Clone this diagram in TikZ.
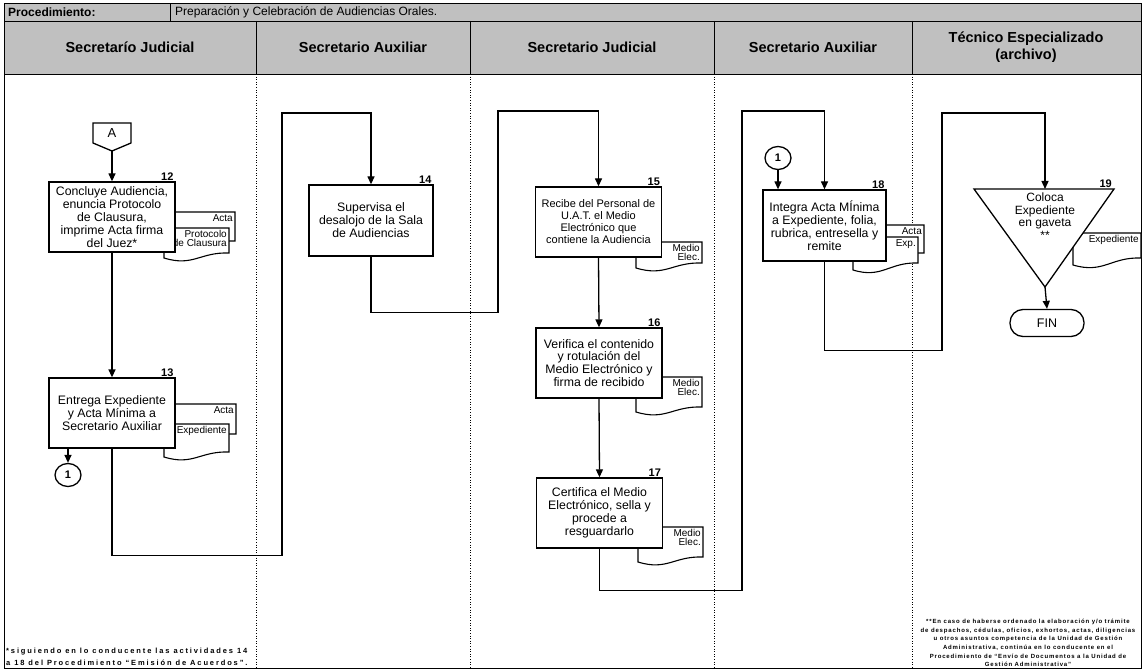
\documentclass[tikz,border=0pt]{standalone}
\usepackage{fontspec}
\setmainfont{Liberation Sans}
\usetikzlibrary{arrows.meta,shapes.geometric}
\definecolor{hdrgray}{HTML}{C0C0C0}
\newcommand{\fsz}[2]{\fontsize{#1}{#2}\selectfont}
% document symbol: x1, top, x2, right bottom, left bottom
\newcommand{\flowdoc}[5]{%
  \path[docshape] (#1,#2) -- (#3,#2) -- (#3,#4)
    .. controls ({#3-0.45*(#3-#1)},{#4-1}) and ({#1+0.45*(#3-#1)},{#5+9}) .. (#1,#5) -- cycle;}

\begin{document}
\begin{tikzpicture}[x=1pt,y=-1pt,
  stepbox/.style={draw, line width=1.3pt, fill=white, align=center, inner sep=1pt,
    minimum width=126pt, minimum height=70pt, font=\fsz{12.3}{12.9}},
  flow/.style={line width=1.3pt, -{Triangle[length=8pt,width=7pt]}},
  num/.style={font=\bfseries\fsz{11}{11}, anchor=south east, inner sep=1pt},
  docshape/.style={draw, line width=1.1pt, fill=white},
  doctext/.style={font=\fsz{10}{9.5}, align=right, anchor=north east, inner sep=1pt},
  conn/.style={draw, ellipse, line width=1.3pt, fill=white, minimum width=26pt,
    minimum height=23pt, inner sep=0pt, font=\bfseries\fsz{11}{11}},
  lane/.style={dotted, line width=0.6pt},
  hdr/.style={font=\bfseries\fsz{14.5}{17}, align=center},
  footl/.style={anchor=west, inner sep=0pt, font=\bfseries\fsz{7.5}{8}\addfontfeature{LetterSpace=25}}
]
\useasboundingbox (0,0) rectangle (1145,671);

% ---- title row and lane headers ----
\fill[hdrgray] (4,4) rectangle (1141,74);
\draw[line width=0.8pt] (4,21) -- (1141,21);
\draw[line width=0.8pt] (4,74) -- (1141,74);
\draw[line width=0.8pt] (170,4) -- (170,21);
\foreach \lx in {256,470,714,912}{
  \draw[line width=0.8pt] (\lx,21) -- (\lx,74);
  \draw[lane] (\lx,74) -- (\lx,668);
}
\draw[line width=1pt] (4,4) rectangle (1141,668);

\node[anchor=west, inner sep=0pt, font=\bfseries\fsz{12}{12}] (proc) at (8,12.5) {Procedimiento:};
\node[anchor=west, inner sep=0pt, font=\fsz{12}{12}] (procname) at (175,12.5) {Preparación y Celebración de Audiencias Orales.};

\node[hdr] (h1) at (130,47.5) {Secretarío Judicial};
\node[hdr] (h2) at (363,47.5) {Secretario Auxiliar};
\node[hdr] (h3) at (592,47.5) {Secretario Judicial};
\node[hdr] (h4) at (813,47.5) {Secretario Auxiliar};
\node[hdr] (h5) at (1026,47.5) {Técnico Especializado\\(archivo)};

% ---- documents (drawn first so the boxes overlap them) ----
\flowdoc{160}{212}{235}{241}{246}
\node[doctext] (d12a) at (234,213) {Acta};
\flowdoc{164}{228}{229}{253}{258}
\node[doctext] (d12b) at (228,229) {Protocolo\\de Clausura};

\flowdoc{160}{404}{236}{434}{439}
\node[doctext] (d13a) at (235,405) {Acta};
\flowdoc{164}{424}{229}{452}{457}
\node[doctext] (d13b) at (228,425) {Expediente};

\flowdoc{636}{242}{702}{263}{268}
\node[doctext] (d15) at (701,243) {Medio\\Elec.};
\flowdoc{636}{377}{702}{407}{412}
\node[doctext] (d16) at (701,378) {Medio\\Elec.};
\flowdoc{638}{527}{703}{557}{562}
\node[doctext] (d17) at (702,528) {Medio\\Elec.};

\flowdoc{850}{225}{924}{253}{258}
\node[doctext] (d18a) at (923,226) {Acta};
\flowdoc{853}{237}{918}{263}{270}
\node[doctext] (d18b) at (917,238) {Exp.};

\flowdoc{1073}{233}{1141}{258}{265}
\node[doctext] (d19) at (1140,234) {Expediente};

% ---- off-page connector ----
\path[draw, line width=1.3pt, fill=white] (93,123) -- (131,123) -- (131,143) -- (112,151) -- (93,143) -- cycle;
\node[font=\fsz{13}{13}, inner sep=0pt] (offA) at (112,133) {A};
\coordinate (offAtip) at (112,151);

% ---- activity boxes ----
\node[stepbox] (b12) at (112,217) {Concluye Audiencia,\\enuncia Protocolo\\de Clausura,\\imprime Acta firma\\del Juez*};
\node[stepbox] (b13) at (112,413) {Entrega Expediente\\y Acta Mínima a\\Secretario Auxiliar};
\node[stepbox, minimum width=124pt, minimum height=71pt] (b14) at (371,220.5) {Supervisa el\\desalojo de la Sala\\de Audiencias};
\node[stepbox, font=\fsz{11}{12}] (b15) at (598.5,222) {Recibe del Personal de\\U.A.T. el Medio\\Electrónico que\\contiene la Audiencia};
\node[stepbox] (b16) at (599,363) {Verifica el contenido\\y rotulación del\\Medio Electrónico y\\firma de recibido};
\node[stepbox] (b17) at (599.5,513) {Certifica el Medio\\Electrónico, sella y\\procede a\\resguardarlo};
\node[stepbox, minimum width=123pt, minimum height=71pt] (b18) at (824.5,225.5) {Integra Acta MÍnima\\a Expediente, folia,\\rubrica, entresella y\\remite};

\node[num] (n12) at ([xshift=-1pt]b12.north east) {12};
\node[num] (n13) at ([xshift=-1pt]b13.north east) {13};
\node[num] (n14) at ([xshift=-1pt]b14.north east) {14};
\node[num] (n15) at ([xshift=-1pt]b15.north east) {15};
\node[num] (n16) at ([xshift=-1pt]b16.north east) {16};
\node[num] (n17) at ([xshift=-1pt]b17.north east) {17};
\node[num] (n18) at ([xshift=-1pt]b18.north east) {18};

% ---- archive triangle and end ----
\path[draw, line width=1.3pt, fill=white] (974,189) -- (1114,189) -- (1045,287) -- cycle;
\coordinate (t19top) at (1045,189);
\coordinate (t19apex) at (1045,287);
\node[align=center, font=\fsz{12}{12.5}, inner sep=0pt] (t19) at (1045,216) {Coloca\\Expediente\\en gaveta\\**};
\node[num] (n19) at (1113,189) {19};
\node[draw, line width=1.3pt, rounded corners=13pt, minimum width=74pt, minimum height=27pt,
  font=\fsz{12.5}{12.5}] (fin) at (1047,323) {FIN};

% ---- on-page connectors ----
\node[conn] (c1a) at (68,475) {1};
\node[conn] (c1b) at (778,158) {1};

% ---- flow lines ----
\draw[flow] (offAtip) -- (b12.north);
\draw[flow] (b12.south) -- (b13.north);
\draw[flow] (b13.south -| c1a) -- (c1a.north);
\draw[flow] (b13.south) -- ++(0,107) -| (282,113) -| (b14.north);
\draw[flow] (b14.south) -- ++(0,56) -| (498,111) -| (b15.north);
\draw[flow] (b15.south) -- (b16.north);
\draw[flow] (b16.south) -- (b17.north);
\draw[flow] (b17.south) -- ++(0,42) -| (742,111) -| (b18.north);
\draw[flow] (c1b.south) -- (c1b.south |- b18.north);
\draw[flow] (b18.south) -- ++(0,89) -| (942,113) -| (t19top);
\draw[flow] (t19apex) -- (fin.north);

% ---- footnotes ----
\node[footl] (fn1a) at (6,652) {*siguiendo en lo conducente las actividades 14};
\node[footl] (fn1b) at (6,663) {a 18 del Procedimiento “Emisión de Acuerdos”.};
\node[align=center, inner sep=0pt, font=\bfseries\fsz{6}{8.6}\addfontfeature{LetterSpace=14}] (fn2) at (1028,643)
  {**En caso de haberse ordenado la elaboración y/o trámite\\
   de despachos, cédulas, oficios, exhortos, actas, diligencias\\
   u otros asuntos competencia de la Unidad de Gestión\\
   Administrativa, continúa en lo conducente en el\\
   Procedimiento de “Envío de Documentos a la Unidad de\\
   Gestión Administrativa”};
\end{tikzpicture}
\end{document}
